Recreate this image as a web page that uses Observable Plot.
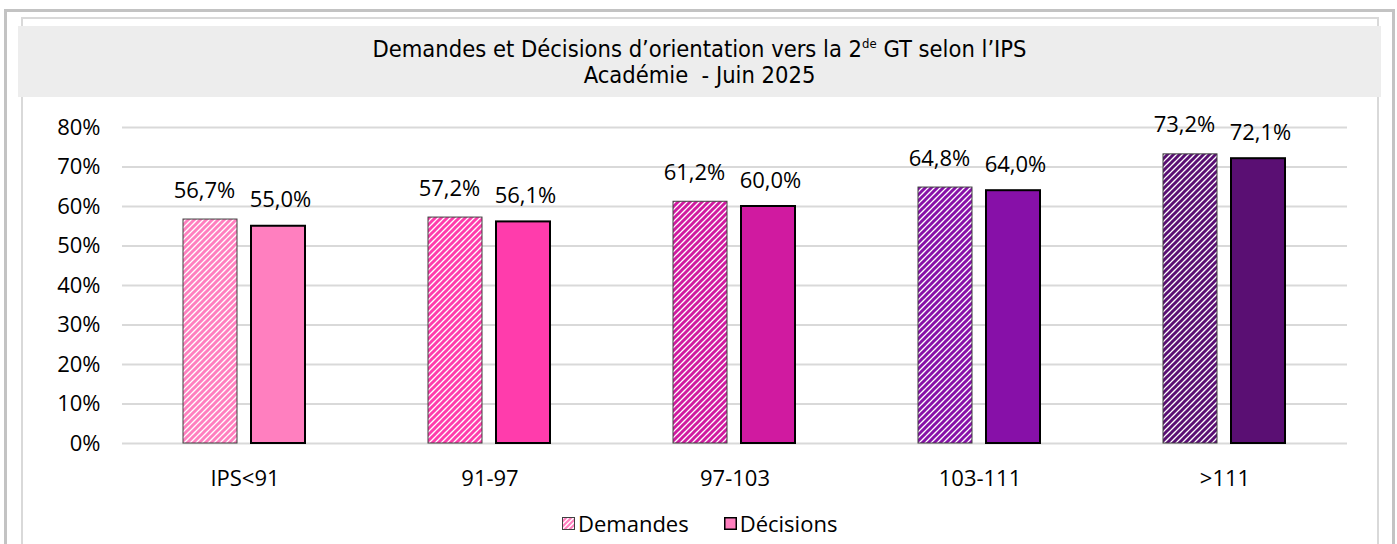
<!DOCTYPE html>
<html><head><meta charset="utf-8">
<script src="https://cdn.jsdelivr.net/npm/d3@7"></script>
<script src="https://cdn.jsdelivr.net/npm/@observablehq/plot@0.6"></script>
<style>
body{margin:0;background:#fff;}
#wrap{position:relative;width:1397px;height:544px;overflow:hidden;font-family:"Open Sans",sans-serif;color:#000;}
.outer{position:absolute;left:4px;top:9px;width:1391px;height:700px;border:3px solid #c3c3c3;box-sizing:border-box;}
.inner{position:absolute;left:21px;top:17px;width:1358px;height:700px;border:2px solid #d9d9d9;box-sizing:border-box;}
.title{position:absolute;left:18px;top:26px;width:1363px;height:71px;background:#ededed;text-align:center;
  font-family:"DejaVu Sans Condensed","Open Sans",sans-serif;font-stretch:condensed;font-size:23.5px;line-height:26px;padding-top:10px;box-sizing:border-box;}
.title sup{font-size:13px;line-height:0;vertical-align:9px;}
#chart{position:absolute;left:0;top:100px;}
.legend{position:absolute;left:562px;top:508px;display:flex;align-items:center;font-size:22px;}
.legend .item{display:flex;align-items:center;}
</style>
</head><body>
<div id="wrap">
  <div class="outer"></div>
  <div class="inner"></div>
  <div class="title">Demandes et Décisions d’orientation vers la 2<sup>de</sup> GT selon l’IPS<br>Académie&nbsp; - Juin 2025</div>
  <div id="chart"></div>
  <div class="legend">
    <div class="item" style="margin-right:35px"><svg width="13" height="13" style="margin-right:3px"><defs><pattern id="legpat" width="5" height="5" patternUnits="userSpaceOnUse"><rect width="5" height="5" fill="#fff"/><path d="M-1.25,1.25 L1.25,-1.25 M0,5 L5,0 M3.75,6.25 L6.25,3.75" stroke="#FF7FBF" stroke-width="2.2"/></pattern></defs><rect x="0.5" y="0.5" width="12" height="12" fill="url(#legpat)" stroke="#404040" stroke-width="1"/></svg><span>Demandes</span></div>
    <div class="item"><svg width="13" height="13" style="margin-right:3px"><rect x="0.75" y="0.75" width="11.5" height="11.5" fill="#FF7FBF" stroke="#000" stroke-width="1.5"/></svg><span>Décisions</span></div>
  </div>
</div>
<script>
const categories = ["IPS<91", "91-97", "97-103", "103-111", ">111"];
const series = ["Demandes", "Décisions"];
const demandes = [0.567, 0.572, 0.612, 0.648, 0.732];
const decisions = [0.550, 0.561, 0.600, 0.640, 0.721];
const colors = ["#FF7FBF", "#FF3CAC", "#D01AA0", "#8710A8", "#5A0F73"];
const yTicks = [0, 0.1, 0.2, 0.3, 0.4, 0.5, 0.6, 0.7, 0.8];

const data = [];
categories.forEach((c, i) => {
  data.push({cat: c, serie: series[0], value: demandes[i], idx: i});
  data.push({cat: c, serie: series[1], value: decisions[i], idx: i});
});
const fmt = v => d3.format(".1%")(v).replace(".", ",");

const chart = Plot.plot({
  width: 1397,
  height: 400,
  marginTop: 27,
  marginBottom: 57,
  marginLeft: 120,
  marginRight: 48,
  style: {fontFamily: "Open Sans, sans-serif", fontSize: "22px", color: "#000", background: "transparent", overflow: "visible"},
  fx: {domain: categories, padding: 0, label: null},
  x: {domain: series, paddingInner: 0.2, paddingOuter: 0.88, axis: null},
  y: {domain: [0, 0.8], label: null},
  color: {type: "identity"},
  marks: [
    Plot.gridY(yTicks, {stroke: "#d9d9d9", strokeOpacity: 1, strokeWidth: 2}),
    Plot.axisY(yTicks, {tickFormat: d3.format(".0%"), tickSize: 0, tickPadding: 22, fontSize: 22, label: null}),
    Plot.axisFx({anchor: "bottom", tickSize: 0, tickPadding: 27, fontSize: 22, label: null}),
    Plot.barY(data.filter(d => d.serie === "Demandes"), {fx: "cat", x: "serie", y: "value", fill: d => `url(#pat${d.idx})`, stroke: "#404040", strokeWidth: 1}),
    Plot.barY(data.filter(d => d.serie === "Décisions"), {fx: "cat", x: "serie", y: "value", fill: d => colors[d.idx], stroke: "#000", strokeWidth: 2}),
    Plot.text(data.filter(d => d.serie === "Demandes"), {fx: "cat", x: "serie", y: "value", text: d => fmt(d.value), dy: -29, dx: -6, fontSize: 22, fill: "#000"}),
    Plot.text(data.filter(d => d.serie === "Décisions"), {fx: "cat", x: "serie", y: "value", text: d => fmt(d.value), dy: -26, dx: 2, fontSize: 22, fill: "#000"})
  ]
});

const defs = d3.select(chart).insert("defs", ":first-child");
colors.forEach((c, i) => {
  const p = defs.append("pattern").attr("id", `pat${i}`).attr("width", 6).attr("height", 6).attr("patternUnits", "userSpaceOnUse");
  p.append("rect").attr("width", 6).attr("height", 6).attr("fill", "#fff");
  p.append("path").attr("d", "M-1.5,1.5 L1.5,-1.5 M0,6 L6,0 M4.5,7.5 L7.5,4.5").attr("stroke", c).attr("stroke-width", 3);
});
document.getElementById("chart").appendChild(chart);
</script>
</body></html>
